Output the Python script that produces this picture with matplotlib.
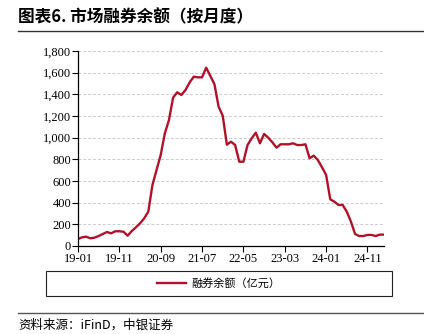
import matplotlib
matplotlib.use("Agg")
import matplotlib.pyplot as plt
from matplotlib.patches import Rectangle
import numpy as np

plt.rcParams['font.family'] = ['Liberation Serif', 'Noto Sans CJK SC', 'DejaVu Sans']

# 融券余额（亿元），月度，2019-01 至 2025-03
months = [f"{y % 100:02d}-{m:02d}" for y in range(2019, 2026) for m in range(1, 13)][:75]
balance = [
    65, 80, 86, 71, 77, 92, 111, 129, 117, 136, 136, 132,        # 2019
    95, 138, 172, 209, 255, 317, 563, 702, 840, 1040, 1163, 1370,  # 2020
    1419, 1394, 1440, 1510, 1563, 1557, 1557, 1646, 1570, 1493, 1286, 1203,  # 2021
    935, 963, 932, 778, 778, 932, 994, 1046, 948, 1034, 1000, 957,  # 2022
    908, 939, 939, 939, 948, 932, 932, 939, 810, 834, 794, 727,   # 2023
    656, 431, 409, 379, 379, 317, 225, 111, 92, 92, 102, 102,     # 2024
    92, 105, 105,                                                  # 2025
]
tick_idx = list(range(0, 75, 10))
tick_labels = [months[i] for i in tick_idx]
series_name = "融券余额（亿元）"
color = "#B0122B"

fig = plt.figure(figsize=(4.24, 3.34), dpi=100)
ax = fig.add_axes([78 / 424, 88 / 334, 306 / 424, 195 / 334])

x = np.arange(len(balance))
line, = ax.plot(x, balance, color=color, lw=1.7)

ax.set_xlim(0, len(balance) - 1)
ax.set_ylim(0, 1800)
ax.set_yticks(range(0, 1801, 200))
ax.set_yticklabels([f"{v:,}" for v in range(0, 1801, 200)])
ax.set_xticks(tick_idx)
ax.set_xticklabels(tick_labels)
ax.tick_params(labelsize=9, length=4, width=0.8, direction='out', pad=1, colors='black')
ax.yaxis.grid(True, ls=(0, (3, 2)), color='#cccccc', lw=0.7)
ax.set_axisbelow(True)
for s in ['top', 'right']:
    ax.spines[s].set_visible(False)
for s in ['left', 'bottom']:
    ax.spines[s].set_linewidth(0.9)

# title and rules
fig.text(18 / 424, 1 - 17 / 334, "图表6. 市场融券余额（按月度）", fontsize=12, fontweight='bold',
         family=['Noto Sans CJK SC', 'DejaVu Sans'], va='center', ha='left')
fig.add_artist(plt.Line2D([18 / 424, 1], [1 - 30.5 / 334] * 2, color='#333333', lw=1.0))
fig.add_artist(plt.Line2D([18 / 424, 1], [1 - 313 / 334] * 2, color='#555555', lw=1.0))

# legend box
fig.add_artist(Rectangle((46 / 424, 1 - 296 / 334), 346 / 424, 25.5 / 334, transform=fig.transFigure,
                         fill=False, ec='#222222', lw=0.8))
fig.legend([line], [series_name], loc='center', bbox_to_anchor=(219 / 424, 1 - 283 / 334),
           frameon=False, prop={'family': ['Noto Sans CJK SC', 'DejaVu Sans'], 'size': 8},
           handlelength=2.6, handletextpad=0.5)

fig.text(18 / 424, 1 - 325 / 334, "资料来源：iFinD，中银证券", fontsize=9, style='italic',
         family=['Noto Sans CJK SC', 'DejaVu Sans'], va='center', ha='left')

fig.savefig("out.png", dpi=100)
